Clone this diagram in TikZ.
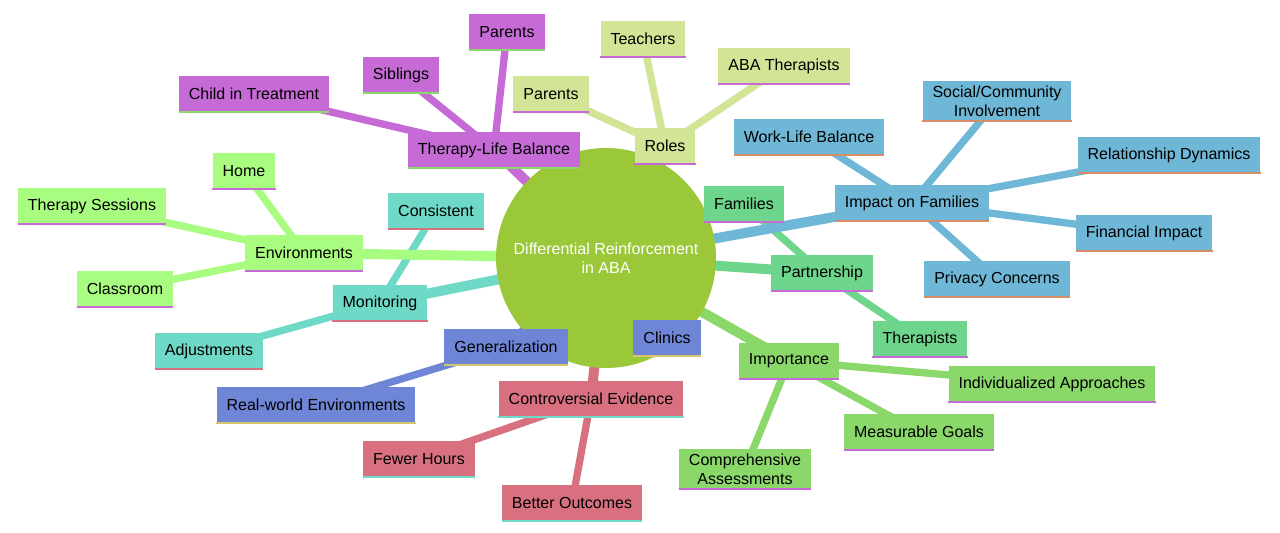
\documentclass[tikz,border=0pt]{standalone}
\usepackage{fontspec}
\setmainfont{Liberation Sans}
\definecolor{cpurple}{RGB}{198,107,214}
\definecolor{cyellow}{RGB}{210,228,150}
\definecolor{cblue}{RGB}{111,183,214}
\definecolor{cgreen}{RGB}{110,214,140}
\definecolor{cimp}{RGB}{138,216,106}
\definecolor{cred}{RGB}{217,112,127}
\definecolor{cgen}{RGB}{111,134,214}
\definecolor{cteal}{RGB}{110,217,198}
\definecolor{clime}{RGB}{168,252,127}
\definecolor{ccore}{RGB}{154,200,56}
\definecolor{corange}{RGB}{214,140,100}
\definecolor{cochre}{RGB}{214,196,110}
\pgfdeclarelayer{bg}
\pgfsetlayers{bg,main}
\tikzset{%
  box/.style={rectangle, fill=#1, inner xsep=7.5pt, minimum height=27pt, align=center,
    font=\fontsize{12}{14}\selectfont},
  mainedge/.style={line width=7.5pt, #1},
  leafedge/.style={line width=5.5pt, #1},
  bar/.style={line width=1.8pt, #1}
}
\begin{document}
\begin{tikzpicture}[x=0.75pt,y=-0.75pt]
  \useasboundingbox (0,0) rectangle (1280,532);
  % all topics
  \foreach \n/\p/\t/\c/\u in {tlb/{494,150}/Therapy-Life Balance/cpurple/cimp,
      roles/{665,146}/Roles/cyellow/cpurple, impact/{912,203}/Impact on Families/cblue/corange,
      part/{822,273}/Partnership/cgreen/cpurple, imp/{789,361}/Importance/cimp/cpurple,
      contro/{591,399}/Controversial Evidence/cred/cteal, gen/{506,347}/Generalization/cgen/cochre,
      mon/{380,303}/Monitoring/cteal/cred, env/{304,253}/Environments/clime/cpurple,
      child/{254,94}/Child in Treatment/cpurple/cimp,
      sib/{401,75}/Siblings/cpurple/cimp, parA/{507,32}/Parents/cpurple/cimp,
      parB/{551,94}/Parents/cyellow/cpurple, teach/{643,39}/Teachers/cyellow/cpurple,
      abat/{784,66}/ABA Therapists/cyellow/cpurple,
      wlb/{809,137}/Work-Life Balance/cblue/corange,
      soc/{997,101}/{Social/Community\\Involvement}/cblue/corange,
      rel/{1169,155}/Relationship Dynamics/cblue/corange,
      fin/{1144,233}/Financial Impact/cblue/corange, priv/{997,279}/Privacy Concerns/cblue/corange,
      fam/{744,204}/Families/cgreen/cpurple, ther/{920,339}/Therapists/cgreen/cpurple,
      indiv/{1052,384}/Individualized Approaches/cimp/cpurple,
      meas/{919,432}/Measurable Goals/cimp/cpurple,
      comp/{745,469}/{Comprehensive\\Assessments}/cimp/cpurple,
      fewer/{419,459}/Fewer Hours/cred/cteal, better/{572,503}/Better Outcomes/cred/cteal,
      real/{316,405}/Real-world Environments/cgen/cochre, clin/{667,338}/Clinics/cgen/cochre,
      cons/{436,211}/Consistent/cteal/cred, adj/{209,351}/Adjustments/cteal/cred,
      home/{244,171}/Home/clime/cpurple, ts/{92,206}/Therapy Sessions/clime/cpurple,
      class/{125,289}/Classroom/clime/cpurple}
  {
    \node[box=\c] (\n) at (\p) {\t};
    \draw[bar=\u] (\n.south west) -- (\n.south east);
  }
  \begin{pgfonlayer}{bg}
  % connectors
  \foreach \a/\b/\c in {tlb/child/cpurple, tlb/sib/cpurple, tlb/parA/cpurple,
      roles/parB/cyellow, roles/teach/cyellow, roles/abat/cyellow,
      impact/wlb/cblue, impact/soc/cblue, impact/rel/cblue, impact/fin/cblue, impact/priv/cblue,
      part/fam/cgreen, part/ther/cgreen, imp/indiv/cimp, imp/meas/cimp, imp/comp/cimp,
      contro/fewer/cred, contro/better/cred, gen/real/cgen, gen/clin/cgen,
      mon/cons/cteal, mon/adj/cteal, env/home/clime, env/ts/clime, env/class/clime}
    \draw[leafedge=\c] (\a.center) -- (\b.center);
  \coordinate (core) at (606,258);
  \foreach \b/\c in {tlb/cpurple, roles/cyellow, impact/cblue, part/cgreen, imp/cimp,
      contro/cred, gen/cgen, mon/cteal, env/clime}
    \draw[mainedge=\c] (core) -- (\b.center);
  \node[circle, fill=ccore, minimum size=165pt, text=white, align=center,
    font=\fontsize{12}{14}\selectfont] (center) at (core)
    {Differential Reinforcement\\in ABA};
  \end{pgfonlayer}
\end{tikzpicture}
\end{document}
